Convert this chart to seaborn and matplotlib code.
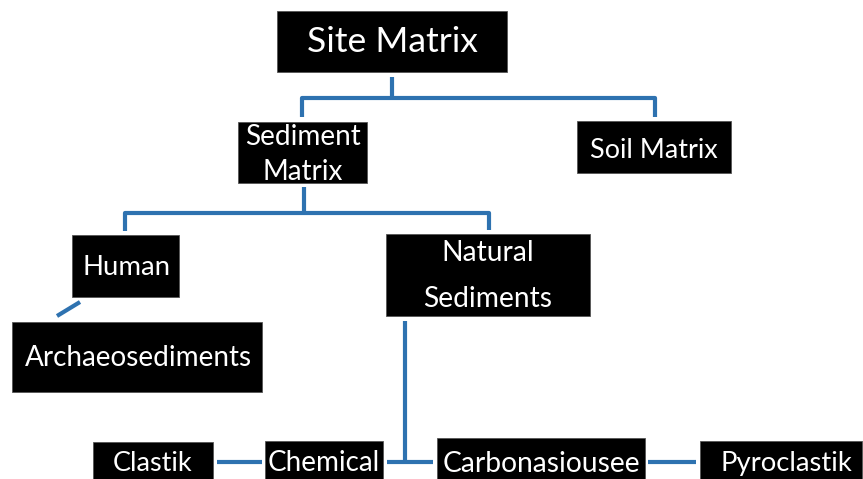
import matplotlib
matplotlib.use("Agg")
import matplotlib.pyplot as plt
from matplotlib.patches import Rectangle
import seaborn as sns
import pandas as pd

# ---- data: node labels (one entry per line of text) ----
node_names = ["site", "sediment", "soil", "human", "natural", "archaeo",
              "clastik", "chemical", "carbon", "pyro"]
node_lines = [["Site Matrix"], ["Sediment", "Matrix"], ["Soil Matrix"], ["Human"],
              ["Natural", "Sediments"], ["Archaeosediments"],
              ["Clastik"], ["Chemical"], ["Carbonasiousee"], ["Pyroclastik"]]

# ---- layout (pixel coordinates of the 863x479 canvas) ----
boxes = {
    "site": (277, 11, 507, 72), "sediment": (238, 122, 367, 183),
    "soil": (577, 121, 731, 173), "human": (72, 235, 179, 297),
    "natural": (386, 234, 590, 316), "archaeo": (12, 322, 262, 392),
    "clastik": (93, 442, 213, 481), "chemical": (265, 441, 383, 481),
    "carbon": (437, 438, 645, 481), "pyro": (700, 441, 862, 481),
}
# text: (x centre, baselines per line, target width of widest line)
text_pos = {
    "site": (392.5, [52], 171), "sediment": (303, [145, 180], 116),
    "soil": (654, [158], 128), "human": (126, [275], 88),
    "natural": (487.5, [261, 307], 129), "archaeo": (138.5, [366], 227),
    "clastik": (153, [471], 80), "chemical": (324, [471], 112),
    "carbon": (541, [472], 198), "pyro": (786, [471], 132),
}
connectors = [
    [(392, 77), (392, 98)],
    [(302, 117), (302, 98), (655, 98), (655, 117)],
    [(304, 187), (304, 213)],
    [(125, 231), (125, 213), (489, 213), (489, 230)],
    [(80, 302), (57, 316)],
    [(405, 321), (405, 462)],
    [(387, 462), (433, 462)],
    [(217, 462), (262, 462)],
    [(648, 462), (696, 462)],
]

sns.set_theme(style="white")
plt.rcParams["font.family"] = ["Lato", "DejaVu Sans"]

fig = plt.figure(figsize=(8.63, 4.79), dpi=100)
ax = fig.add_axes([0, 0, 1, 1])
ax.set_xlim(0, 863)
ax.set_ylim(479, 0)
ax.axis("off")

rows = []
for i, seg in enumerate(connectors):
    for j, (x, y) in enumerate(seg):
        rows.append({"seg": i, "order": j, "x": x, "y": y})
df = pd.DataFrame(rows)
sns.lineplot(data=df, x="x", y="y", units="seg", estimator=None, sort=False,
             color="#2E72B0", linewidth=3.0, ax=ax, legend=False,
             solid_capstyle="butt")
ax.set_xlim(0, 863)
ax.set_ylim(479, 0)
ax.axis("off")

for name in node_names:
    x0, y0, x1, y1 = boxes[name]
    ax.add_patch(Rectangle((x0, y0), x1 - x0, y1 - y0, facecolor="black",
                           edgecolor="#555555", linewidth=0.6, zorder=3))

renderer = fig.canvas.get_renderer()
for name, lines in zip(node_names, node_lines):
    xc, baselines, target = text_pos[name]
    texts = [ax.text(xc, yb, ln, ha="center", va="baseline", color="white",
                     fontsize=20, zorder=4) for ln, yb in zip(lines, baselines)]
    widest = max(t.get_window_extent(renderer).width for t in texts)
    for t in texts:
        t.set_fontsize(20 * target / widest)

fig.savefig("out.png", dpi=100, facecolor="white")
